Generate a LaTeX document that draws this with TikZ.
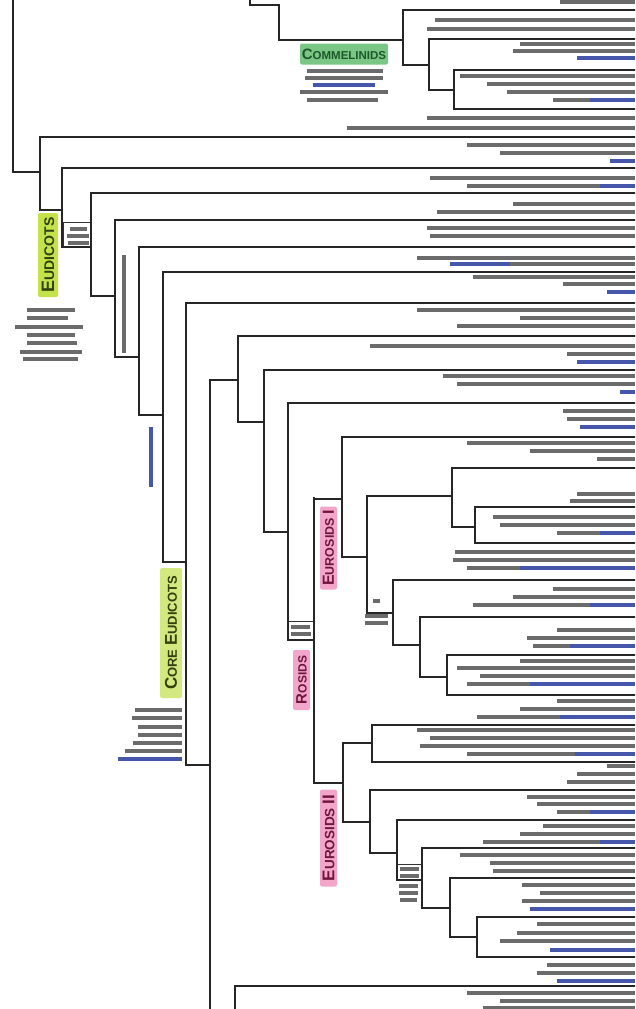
\documentclass[tikz,border=0pt]{standalone}
\usepackage{fontspec}
\newfontfamily\cladefont{Liberation Sans}
\definecolor{eudfill}{RGB}{198,226,74}
\definecolor{corefill}{RGB}{212,232,128}
\definecolor{eudtext}{RGB}{52,64,12}
\definecolor{comfill}{RGB}{122,198,132}
\definecolor{comtext}{RGB}{28,88,44}
\definecolor{rosfill}{RGB}{242,166,202}
\definecolor{rostext}{RGB}{112,22,62}
\definecolor{linkblue}{RGB}{70,86,170}
\begin{document}
\begin{tikzpicture}[x=1pt,y=-1pt,
  branch/.style={line width=1.3pt,black!85,line cap=rect},
  tk/.style={fill=black!58},
  tb/.style={fill=linkblue},
  smallbox/.style={draw=black!80,line width=0.5pt},
  clade/.style={rounded corners=2pt,inner sep=0pt,font=\cladefont\bfseries}]
\useasboundingbox (0,0) rectangle (635,1009);
\clip (0,0) rectangle (635,1009);

% clade labels
\node[clade, fill=comfill, text=comtext, minimum width=88pt, minimum height=21pt] (commel) at (344,54)
  {{\fontsize{15}{15}\selectfont C}{\fontsize{11.5}{12}\selectfont OMMELINIDS}};
\node[clade, fill=eudfill, text=eudtext, rotate=90, minimum width=84pt, minimum height=20pt] (eudicots) at (48,255)
  {{\fontsize{18}{18}\selectfont E}{\fontsize{14}{14}\selectfont UDICOTS}};
\node[clade, fill=corefill, text=eudtext, rotate=90, minimum width=130pt, minimum height=22pt] (coreeud) at (171,633)
  {{\fontsize{17}{17}\selectfont C}{\fontsize{13}{13}\selectfont ORE }{\fontsize{17}{17}\selectfont E}{\fontsize{13}{13}\selectfont UDICOTS}};
\node[clade, fill=rosfill, text=rostext, rotate=90, minimum width=60pt, minimum height=17pt] (rosids) at (301.5,680)
  {{\fontsize{15}{15}\selectfont R}{\fontsize{12}{12}\selectfont OSIDS}};
\node[clade, fill=rosfill, text=rostext, rotate=90, minimum width=83pt, minimum height=17pt] (eurosI) at (328.5,548)
  {{\fontsize{16}{16}\selectfont E}{\fontsize{12.5}{13}\selectfont UROSIDS }{\fontsize{16}{16}\selectfont I}};
\node[clade, fill=rosfill, text=rostext, rotate=90, minimum width=97pt, minimum height=17pt] (eurosII) at (328.5,838)
  {{\fontsize{17}{17}\selectfont E}{\fontsize{13.5}{14}\selectfont UROSIDS }{\fontsize{17}{17}\selectfont II}};

% boxed notes in the elbows
\draw[smallbox] (63,222) rectangle (91,247);
\draw[smallbox] (288,621) rectangle (314,640);
\draw[smallbox] (397,864) rectangle (422,880);

% tree: vertical branches
\foreach \x/\a/\b in {13/-5/172, 250/-5/5, 279/5/40, 403/10/65, 429/39/90, 454/70/109,
  40/137/210, 62/168/247, 91/193/296, 115/220/357, 139/247/415, 163/272/562,
  186/303/765, 210/380/1015, 238/336/422, 264/370/532, 288/403/640, 314/498/783,
  342/437/557, 367/496/613, 452/468/527, 475/507/543, 393/580/645, 420/617/677,
  447/655/695, 343/743/822, 372/725/762, 370/790/853, 397/820/880, 422/848/908,
  450/878/937, 477/917/957, 235/986/1015}
  \draw[branch] (\x,\a) -- (\x,\b);

% tree: joining branches
\foreach \y/\a/\b in {5/250/279, 40/279/403, 65/403/429, 90/429/454, 172/13/40,
  210/40/62, 247/62/91, 296/91/115, 357/115/139, 415/139/163, 562/163/186,
  765/186/210, 380/210/238, 422/238/264, 532/264/288, 640/288/314, 499/314/342,
  557/342/367, 496/367/452, 527/452/475, 613/367/393, 645/393/420, 677/420/447,
  783/314/343, 743/343/372, 822/343/370, 853/370/397, 880/397/422, 908/422/450,
  937/450/477}
  \draw[branch] (\a,\y) -- (\b,\y);

% tree: leaves, running off the right edge
\foreach \y/\a in {10/403, 39/429, 70/454, 109/454, 137/40, 168/62, 193/91, 220/115,
  247/139, 272/163, 303/186, 336/238, 370/264, 403/288, 437/342, 468/452, 507/475,
  543/475, 580/393, 617/420, 655/447, 695/447, 725/372, 762/372, 790/370, 820/397,
  848/422, 878/450, 917/477, 957/477, 986/235}
  \draw[branch] (\a,\y) -- (640,\y);

% illegible leaf notes, drawn as text lines
\foreach \y/\a/\b/\c in {2/560/635/tk,
  20/435/635/tk, 29/427/635/tk,
  44/520/635/tk, 51/513/635/tk, 58/577/635/tb,
  76/460/635/tk, 84/487/635/tk, 92/507/635/tk, 100/553/590/tk, 100/590/635/tb,
  118/427/635/tk, 128/347/635/tk,
  145/467/635/tk, 153/500/635/tk, 161/610/635/tb,
  178/430/635/tk, 186/467/600/tk, 186/600/635/tb,
  204/513/635/tk, 212/437/635/tk,
  228/427/635/tk, 236/430/635/tk,
  258/417/635/tk, 264/450/510/tb, 264/510/635/tk,
  277/473/635/tk, 284/563/635/tk, 292/607/635/tb,
  310/417/635/tk, 318/520/635/tk, 326/457/635/tk,
  346/370/635/tk, 354/567/635/tk, 362/577/635/tb,
  376/443/635/tk, 384/457/635/tk, 392/620/635/tb,
  411/563/635/tk, 419/567/635/tk, 427/580/635/tb,
  443/467/635/tk, 451/530/635/tk, 459/597/635/tk,
  494/577/635/tk, 501/570/635/tk,
  517/493/635/tk, 525/500/635/tk, 533/557/600/tk, 533/600/635/tb,
  552/455/635/tk, 560/453/635/tk, 568/467/520/tk, 568/520/635/tb,
  589/553/635/tk, 597/513/635/tk, 605/473/590/tk, 605/590/635/tb,
  630/557/635/tk, 638/527/635/tk, 646/533/570/tk, 646/570/635/tb,
  661/520/635/tk, 668/457/635/tk, 676/480/635/tk, 684/467/530/tk, 684/530/635/tb,
  701/557/635/tk, 709/520/635/tk, 717/477/560/tk, 717/560/635/tb,
  730/417/635/tk, 738/430/635/tk, 746/420/635/tk, 754/467/575/tk, 754/575/635/tb,
  766/607/635/tk, 774/577/635/tk, 782/567/635/tk,
  797/527/635/tk, 804/537/635/tk, 812/557/590/tk, 812/590/635/tb,
  826/543/635/tk, 834/520/635/tk, 842/483/600/tk, 842/600/635/tb,
  855/460/635/tk, 863/490/635/tk, 871/493/635/tk,
  885/522/635/tk, 893/540/635/tk, 901/522/635/tk, 909/530/635/tb,
  924/537/635/tk, 933/517/635/tk, 941/500/635/tk, 950/550/635/tb,
  965/547/635/tk, 973/537/635/tk, 981/557/635/tb,
  993/467/635/tk, 1001/500/635/tk, 1008/483/635/tk,
  71/307/383/tk, 78/305/383/tk, 85/313/375/tb, 92/300/388/tk, 100/307/378/tk,
  310/27/75/tk, 318/27/68/tk, 327/15/83/tk, 335/27/75/tk, 343/27/77/tk, 352/20/82/tk, 359/23/78/tk,
  710/135/182/tk, 718/132/182/tk, 727/138/182/tk, 735/138/182/tk, 743/133/182/tk, 751/125/182/tk, 759/118/182/tb,
  229/70/87/tk, 236/67/89/tk, 243/68/89/tk,
  627/291/310/tk, 634/291/311/tk,
  601/373/380/tk, 616/365/388/tk, 623/365/388/tk,
  869/400/419/tk, 876/400/419/tk, 886/399/418/tk, 893/399/418/tk, 900/400/417/tk}
  \fill[\c] (\a,\y-1.7) rectangle (\b,\y+1.7);
\fill[tk] (122,255) rectangle (126,353);
\fill[tb] (149,427) rectangle (153,487);
\end{tikzpicture}
\end{document}
